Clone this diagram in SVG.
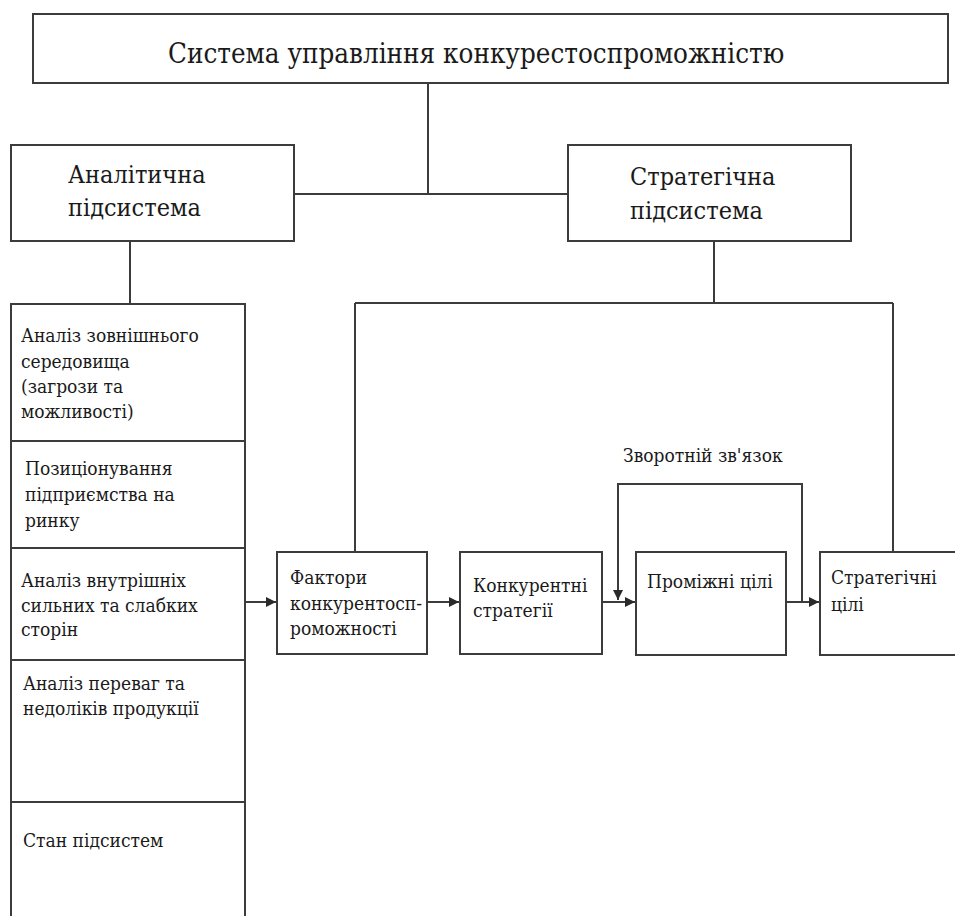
<svg xmlns="http://www.w3.org/2000/svg" width="955" height="916" viewBox="0 0 955 916">
<defs>
<style>
.box{fill:#fff;stroke:#3c3c3c;stroke-width:2}
.ln{fill:none;stroke:#3c3c3c;stroke-width:2}
text{fill:#1a1a1a;font-family:"DejaVu Serif Condensed","DejaVu Serif",serif;font-stretch:condensed}
.t1{font-size:27.5px}
.t2{font-size:25px}
.t3{font-size:19px}
</style>
<marker id="ah" viewBox="0 0 10 10" refX="10" refY="5" markerWidth="5" markerHeight="5" orient="auto" markerUnits="strokeWidth">
<path d="M0,0 L10,5 L0,10 z" fill="#2a2a2a"/>
</marker>
</defs>
<rect width="955" height="916" fill="#fff"/>
<g id="connectors">
<path class="ln" d="M428,83 V194 M294,194 H568"/>
<path class="ln" d="M130,241 V304"/>
<path class="ln" d="M714,241 V303 M355,303 H893 M355,303 V552 M893,303 V552"/>
<path class="ln" d="M245,602 H276" marker-end="url(#ah)"/>
<path class="ln" d="M427,602 H459" marker-end="url(#ah)"/>
<path class="ln" d="M602,602 H635" marker-end="url(#ah)"/>
<path class="ln" d="M786,602 H819" marker-end="url(#ah)"/>
<path class="ln" d="M802,602 V484 H618 V600" marker-end="url(#ah)"/>
<text class="t3" x="623" y="462">Зворотній зв'язок</text>
</g>
<g id="top">
<rect class="box" x="33" y="14" width="915" height="69"/>
<text class="t1" x="168" y="63">Система управління конкурестоспроможністю</text>
</g>
<g id="analytic">
<rect class="box" x="11" y="145" width="283" height="96"/>
<text class="t2" x="68" y="183">Аналітична</text>
<text class="t2" x="68" y="216">підсистема</text>
</g>
<g id="strategic">
<rect class="box" x="568" y="145" width="283" height="96"/>
<text class="t2" x="630" y="185">Стратегічна</text>
<text class="t2" x="630" y="219">підсистема</text>
</g>
<g id="column">
<path class="ln" d="M11,920 V304 H245 V920 M11,441 H245 M11,548 H245 M11,660 H245 M11,802 H245"/>
</g>
<g id="external">
<text class="t3" x="21" y="342">Аналіз зовнішнього</text>
<text class="t3" x="21" y="368">середовища</text>
<text class="t3" x="21" y="393">(загрози та</text>
<text class="t3" x="21" y="418">можливості)</text>
</g>
<g id="positioning">
<text class="t3" x="25" y="475">Позиціонування</text>
<text class="t3" x="25" y="501">підприємства на</text>
<text class="t3" x="25" y="527">ринку</text>
</g>
<g id="internal">
<text class="t3" x="21" y="587">Аналіз внутрішніх</text>
<text class="t3" x="21" y="612">сильних та слабких</text>
<text class="t3" x="21" y="636">сторін</text>
</g>
<g id="product">
<text class="t3" x="23" y="690">Аналіз переваг та</text>
<text class="t3" x="23" y="715">недоліків продукції</text>
</g>
<g id="state">
<text class="t3" x="23" y="847">Стан підсистем</text>
</g>
<g id="factors">
<rect class="box" x="277" y="552" width="150" height="102"/>
<text class="t3" x="290" y="584">Фактори</text>
<text class="t3" x="290" y="610">конкурентосп-</text>
<text class="t3" x="290" y="635">роможності</text>
</g>
<g id="strategies">
<rect class="box" x="460" y="552" width="142" height="102"/>
<text class="t3" x="473" y="592">Конкурентні</text>
<text class="t3" x="473" y="617">стратегії</text>
</g>
<g id="intermediate">
<rect class="box" x="636" y="552" width="150" height="103"/>
<text class="t3" x="647" y="588">Проміжні цілі</text>
</g>
<g id="goals">
<rect class="box" x="820" y="552" width="150" height="103"/>
<text class="t3" x="831" y="584">Стратегічні</text>
<text class="t3" x="831" y="611">цілі</text>
</g>
</svg>
